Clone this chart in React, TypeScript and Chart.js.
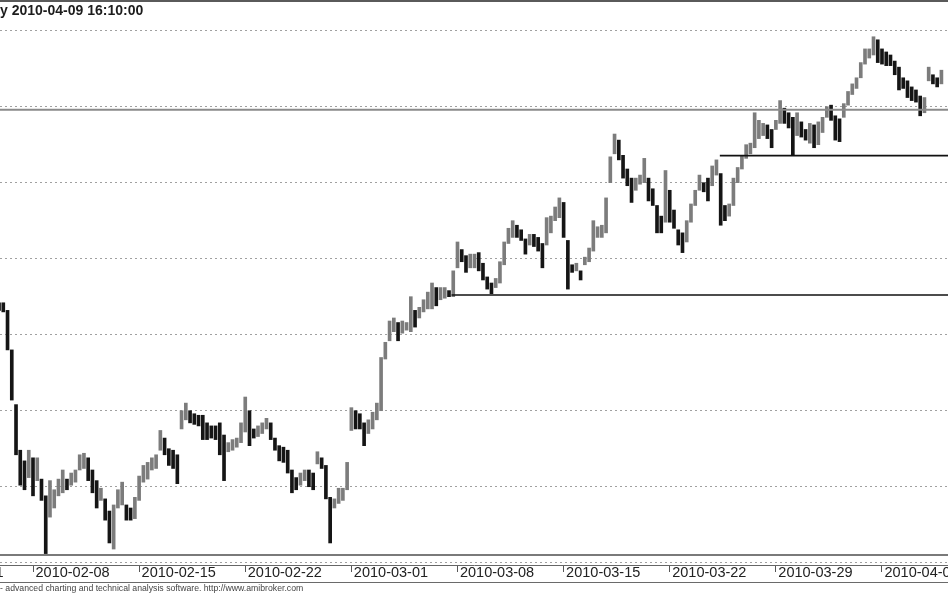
import { useEffect, useRef } from 'react';
import { Chart, registerables } from 'chart.js';

Chart.register(...registerables);

// ---- data (one bar per ~1/5 trading day, index 0 = first visible bar) ----
const highs = [
  2371, 2371, 2366, 2340, 2304, 2274, 2267, 2274, 2269, 2269,
  2255, 2244, 2254, 2248, 2255, 2261, 2255, 2259, 2261, 2271,
  2272, 2269, 2261, 2254, 2249, 2242, 2234, 2238, 2248, 2253,
  2238, 2236, 2243, 2257, 2264, 2266, 2269, 2271, 2287, 2282,
  2275, 2274, 2271, 2300, 2305, 2300, 2298, 2297, 2297, 2292,
  2290, 2290, 2292, 2284, 2279, 2281, 2282, 2292, 2309, 2300,
  2288, 2290, 2292, 2295, 2292, 2282, 2277, 2276, 2274, 2261,
  2256, 2259, 2261, 2261, 2259, 2273, 2269, 2264, 2243, 2242,
  2249, 2249, 2266, 2302, 2300, 2298, 2292, 2294, 2299, 2305,
  2335, 2345, 2359, 2361, 2358, 2359, 2358, 2375, 2366, 2368,
  2373, 2378, 2384, 2381, 2381, 2381, 2379, 2392, 2411, 2406,
  2402, 2403, 2403, 2404, 2397, 2388, 2384, 2387, 2398, 2411,
  2420, 2425, 2422, 2419, 2413, 2416, 2416, 2414, 2410, 2427,
  2428, 2434, 2440, 2437, 2412, 2396, 2397, 2392, 2401, 2407,
  2425, 2421, 2422, 2440, 2467, 2482, 2478, 2468, 2459, 2453,
  2453, 2455, 2466, 2453, 2446, 2435, 2428, 2458, 2445, 2432,
  2419, 2417, 2425, 2436, 2445, 2455, 2450, 2453, 2461, 2465,
  2456, 2435, 2436, 2453, 2460, 2468, 2475, 2476, 2496, 2491,
  2489, 2488, 2485, 2491, 2504, 2499, 2496, 2493, 2496, 2490,
  2485, 2489, 2488, 2490, 2493, 2500, 2501, 2494, 2492, 2502,
  2510, 2515, 2519, 2529, 2538, 2538, 2546, 2544, 2538, 2536,
  2534, 2530, 2526, 2519, 2517, 2513, 2511, 2507, 2506, 2526,
  2521, 2519, 2524,
];

const lows = [
  2366, 2365, 2340, 2307, 2271, 2251, 2248, 2256, 2244, 2254,
  2241, 2206, 2230, 2236, 2244, 2246, 2248, 2251, 2253, 2261,
  2262, 2254, 2246, 2236, 2241, 2228, 2213, 2209, 2236, 2238,
  2228, 2228, 2229, 2241, 2253, 2255, 2261, 2262, 2274, 2271,
  2264, 2262, 2252, 2288, 2294, 2292, 2291, 2290, 2281, 2281,
  2282, 2281, 2271, 2254, 2273, 2274, 2276, 2279, 2286, 2277,
  2282, 2283, 2285, 2288, 2281, 2274, 2267, 2266, 2259, 2246,
  2248, 2251, 2254, 2250, 2248, 2265, 2262, 2242, 2213, 2236,
  2239, 2241, 2248, 2287, 2288, 2288, 2277, 2285, 2288, 2294,
  2300, 2334, 2346, 2352, 2346, 2351, 2353, 2352, 2355, 2361,
  2365, 2367, 2367, 2369, 2373, 2374, 2375, 2375, 2394, 2398,
  2391, 2394, 2394, 2392, 2386, 2380, 2377, 2381, 2384, 2396,
  2410, 2414, 2414, 2412, 2403, 2409, 2408, 2405, 2394, 2409,
  2417, 2425, 2427, 2414, 2380, 2391, 2392, 2386, 2396, 2398,
  2405, 2414, 2414, 2417, 2450, 2469, 2465, 2453, 2448, 2437,
  2445, 2449, 2450, 2438, 2435, 2417, 2417, 2424, 2424, 2420,
  2409, 2404, 2411, 2424, 2435, 2445, 2444, 2438, 2448, 2455,
  2422, 2425, 2428, 2435, 2450, 2459, 2466, 2469, 2473, 2479,
  2481, 2479, 2473, 2485, 2489, 2489, 2486, 2468, 2481, 2480,
  2478, 2476, 2473, 2475, 2483, 2493, 2491, 2478, 2477, 2493,
  2501, 2508, 2512, 2519, 2528, 2532, 2534, 2529, 2528, 2527,
  2527, 2521, 2511, 2512, 2506, 2504, 2503, 2494, 2496, 2517,
  2515, 2513, 2515,
];

// week start ticks (bar index) and their labels
const weekTickIndex = [8, 33, 58, 83, 108, 133, 158, 183, 208];
const weekLabels = [
  '2010-02-08', '2010-02-15', '2010-02-22', '2010-03-01', '2010-03-08',
  '2010-03-15', '2010-03-22', '2010-03-29', '2010-04-06',
];
const prevWeekTickIndex = -17;
const prevWeekLabel = '2010-02-01';

// horizontal price grid
const gridLevels = [2200, 2250, 2300, 2350, 2400, 2450, 2500, 2550];

// horizontal study lines: price level and first bar index
const studyLevels = [2498, 2205, 2467.8, 2376.1];
const studyStarts = [0.226, 0.226, 169.8, 106.6];

const titleText = 'y 2010-04-09 16:10:00';
const footerText = '- advanced charting and technical analysis software. http://www.amibroker.com';

// ---- view settings ----
const X_MIN = 0.226;
const X_MAX = 223.55;
const Y_MIN = 2198.5;
const Y_MAX = 2568.2;
const UP_COLOR = '#7c7c7c';
const DOWN_COLOR = '#151515';
const STUDY_COLORS = ['#8a8a8a', '#7a7a7a', '#111111', '#111111'];
const STUDY_WIDTHS = [2, 2, 1.6, 1.6];
const FONT = '"Liberation Sans", Arial, sans-serif';
const LABEL_SIZE = 14.5;

const decorPlugin = {
  id: 'decor',
  afterDraw(chart: any) {
    const { ctx } = chart;
    const xs = chart.scales.x;
    const w = chart.width;
    ctx.save();
    // top frame
    ctx.fillStyle = '#5a5a5a';
    ctx.fillRect(0, 0, w, 2);
    // title
    ctx.font = `bold 14px ${FONT}`;
    ctx.fillStyle = '#1c1c1c';
    ctx.textAlign = 'left';
    ctx.textBaseline = 'alphabetic';
    ctx.fillText(titleText, 0, 15);
    // label of the week that starts left of the view
    ctx.font = `${LABEL_SIZE}px ${FONT}`;
    ctx.textBaseline = 'middle';
    ctx.fillStyle = '#222222';
    ctx.fillText(prevWeekLabel, xs.getPixelForValue(prevWeekTickIndex) + 2.5, 573);
    // footer divider
    ctx.fillStyle = '#6a6a6a';
    ctx.fillRect(0, 582, w, 1);
    // footer text
    ctx.font = `8.7px ${FONT}`;
    ctx.fillStyle = '#444444';
    ctx.textBaseline = 'alphabetic';
    ctx.fillText(footerText, 0, 591);
    ctx.restore();
  },
};

export default function App() {
  const canvasRef = useRef<HTMLCanvasElement | null>(null);

  useEffect(() => {
    const canvas = canvasRef.current;
    if (!canvas) return;

    const bars = highs.map((h, i) => ({ x: i, y: [lows[i], h] }));
    const mids = highs.map((h, i) => (h + lows[i]) / 2);
    const barColors = mids.map((m, i) => (i > 0 && m >= mids[i - 1] ? UP_COLOR : DOWN_COLOR));

    const studyDatasets = studyLevels.map((lvl, k) => ({
      type: 'line' as const,
      data: [
        { x: studyStarts[k], y: lvl },
        { x: X_MAX, y: lvl },
      ],
      borderColor: STUDY_COLORS[k],
      borderWidth: STUDY_WIDTHS[k],
      pointRadius: 0,
      fill: false,
      order: 0,
    }));

    const chart = new Chart(canvas, {
      type: 'bar',
      data: {
        datasets: [
          {
            type: 'bar',
            data: bars as any,
            backgroundColor: barColors,
            borderWidth: 0,
            barThickness: 3,
            grouped: false,
            order: 1,
          } as any,
          ...(studyDatasets as any[]),
        ],
      },
      options: {
        animation: false,
        responsive: false,
        events: [],
        layout: { padding: { top: 3, bottom: 1.6, left: 0, right: 0 } },
        plugins: {
          legend: { display: false },
          tooltip: { enabled: false },
          title: { display: false },
        },
        scales: {
          x: {
            type: 'linear',
            min: X_MIN,
            max: X_MAX,
            offset: false,
            afterBuildTicks: (axis: any) => {
              axis.ticks = weekTickIndex.map((v) => ({ value: v }));
            },
            afterFit: (axis: any) => {
              axis.paddingLeft = 0;
              axis.paddingRight = 0;
            },
            ticks: {
              autoSkip: false,
              maxRotation: 0,
              minRotation: 0,
              align: 'start',
              crossAlign: 'center',
              labelOffset: 2.5,
              padding: 1,
              color: '#222222',
              font: { family: FONT, size: LABEL_SIZE },
              callback: (value: any) => {
                const k = weekTickIndex.indexOf(Number(value));
                return k >= 0 ? weekLabels[k] : '';
              },
            },
            grid: {
              display: true,
              drawOnChartArea: false,
              drawTicks: true,
              tickLength: 7,
              color: '#555555',
              offset: false,
            },
            border: { display: true, color: '#666666', width: 1 },
          },
          y: {
            type: 'linear',
            position: 'right',
            min: Y_MIN,
            max: Y_MAX,
            beginAtZero: false,
            afterBuildTicks: (axis: any) => {
              axis.ticks = gridLevels.map((v) => ({ value: v }));
            },
            ticks: { display: false },
            grid: {
              display: true,
              drawTicks: false,
              color: '#a0a0a0',
              lineWidth: 1,
            },
            border: { display: false, dash: [2, 3] },
          },
        },
      } as any,
      plugins: [decorPlugin],
    });

    return () => chart.destroy();
  }, []);

  return (
    <div style={{ position: 'absolute', left: 0, top: 0, width: 948, height: 593, background: '#ffffff' }}>
      <canvas ref={canvasRef} width={948} height={593} style={{ display: 'block' }} />
    </div>
  );
}
